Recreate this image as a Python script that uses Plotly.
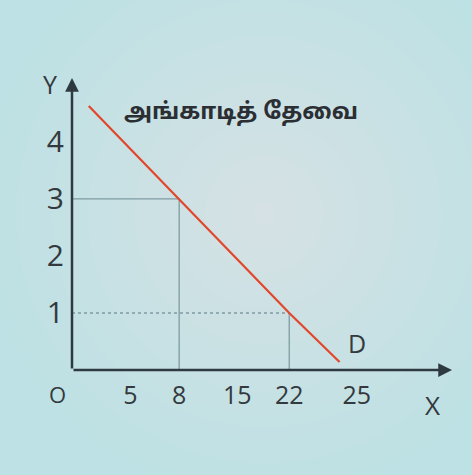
import plotly.graph_objects as go

# ---- data ----
demand_q = [-3.5, 8, 22, 28.4]      # quantity positions along the demand line
demand_p = [4.63, 3, 1, 0.14]       # price
point_q = [8, 22]                   # marked quantities
point_p = [3, 1]                    # marked prices
x_tick_labels = ["5", "8", "15", "22", "25"]
y_tick_vals = [1, 2, 3, 4]
y_tick_labels = ["1", "2", "3", "4"]
title_text = "அங்காடித் தேவை"

# ---- layout constants ----
W, H = 472, 475
x_tick_pos = [1.8, 8, 15.4, 22, 30.6]   # schematic positions of the x labels
X_MIN, X_MAX = -5.63, 42.7
Y_MIN, Y_MAX = 0, 5.12
AX = "#2e3a40"
GUIDE = "#7f9ba1"
TXT = "#33393d"
FONT = "Open Sans, Noto Sans, DejaVu Sans"

fig = go.Figure()

# background radial lightening (many faint discs -> smooth gradient)
cx, cy = 0.56, 0.55
n = 24
for i in range(n):
    r = 0.6 * (1 - i / n)
    fig.add_shape(type="circle", xref="paper", yref="paper",
                  x0=cx - r, x1=cx + r, y0=cy - r, y1=cy + r,
                  fillcolor="rgba(238,250,248,0.025)", line_width=0, layer="below")

# guide lines
fig.add_trace(go.Scatter(x=[X_MIN, point_q[0], point_q[0]], y=[point_p[0], point_p[0], 0],
                         mode="lines", line=dict(color=GUIDE, width=1.3),
                         hoverinfo="skip", showlegend=False))
fig.add_trace(go.Scatter(x=[X_MIN, point_q[1]], y=[point_p[1], point_p[1]],
                         mode="lines", line=dict(color=GUIDE, width=1.4, dash="dot"),
                         hoverinfo="skip", showlegend=False))
fig.add_trace(go.Scatter(x=[point_q[1], point_q[1]], y=[point_p[1], 0],
                         mode="lines", line=dict(color=GUIDE, width=1.3),
                         hoverinfo="skip", showlegend=False))

# demand curve
fig.add_trace(go.Scatter(x=demand_q, y=demand_p, mode="lines",
                         line=dict(color="#e2472c", width=2.2),
                         hoverinfo="skip", showlegend=False))

# axes with arrowheads
fig.add_annotation(x=X_MIN, y=Y_MAX, ax=X_MIN, ay=0, xref="x", yref="y",
                   axref="x", ayref="y", text="", showarrow=True,
                   arrowhead=2, arrowsize=1.1, arrowwidth=2.5, arrowcolor=AX)
fig.add_annotation(x=X_MAX, y=0, ax=X_MIN, ay=0, xref="x", yref="y",
                   axref="x", ayref="y", text="", showarrow=True,
                   arrowhead=2, arrowsize=1.1, arrowwidth=2.5, arrowcolor=AX)

# labels
def lab(x, y, t, size=24, family=FONT, color=TXT):
    fig.add_annotation(x=x / W, y=1 - y / H, xref="paper", yref="paper", text=t, showarrow=False,
                       xanchor="center", yanchor="middle",
                       font=dict(family=family, size=size, color=color))

lab(50, 84, "Y", 25)
lab(432, 405, "X", 26)
lab(357, 343, "D", 25)
lab(57, 394, "O", 22)
lab(241, 113, "<b>" + title_text + "</b>", 23, "Noto Sans Tamil, Noto Sans, DejaVu Sans", "#2b2f33")

fig.update_layout(
    width=W, height=H, margin=dict(l=0, r=0, t=0, b=0),
    paper_bgcolor="#bde1e4", plot_bgcolor="rgba(0,0,0,0)",
    xaxis=dict(domain=[72 / W, 452 / W], range=[X_MIN, X_MAX], showgrid=False, zeroline=False,
               showline=False, tickmode="array", tickvals=x_tick_pos, ticktext=x_tick_labels,
               ticks="", ticklabelstandoff=8,
               tickfont=dict(family=FONT, size=25, color=TXT), fixedrange=True),
    yaxis=dict(domain=[(H - 370) / H, (H - 78) / H], range=[Y_MIN, Y_MAX], showgrid=False,
               zeroline=False, showline=False, tickmode="array", tickvals=y_tick_vals,
               ticktext=y_tick_labels, ticks="", ticklabelstandoff=7,
               tickfont=dict(family=FONT, size=30, color=TXT), fixedrange=True),
)

fig.write_html("out.html", config={"displayModeBar": False},
               post_script="document.body.style.margin='0';document.body.style.overflow='hidden';")
